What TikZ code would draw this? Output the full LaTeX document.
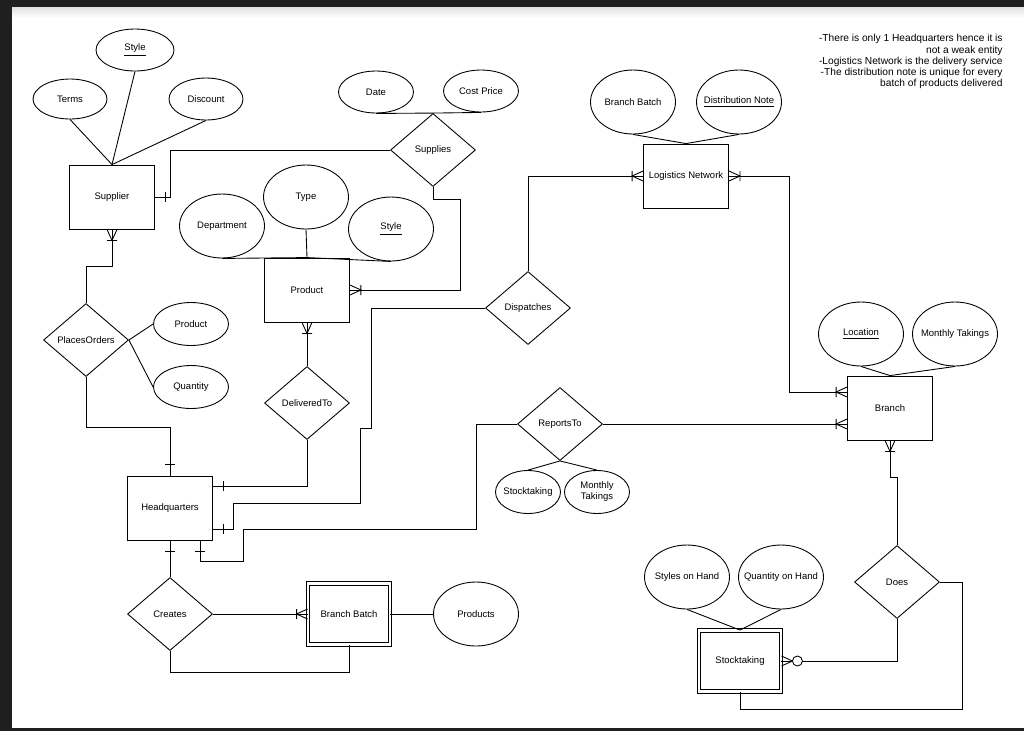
\documentclass[tikz,border=0pt]{standalone}
\usepackage{fontspec}
\setmainfont{Liberation Sans}
\usetikzlibrary{shapes}
\usetikzlibrary{calc}

\tikzset{
  onemark/.pic={\draw (11,-5) -- (11,5);},
  manymark/.pic={\draw (0,-5) -- (11,0) -- (0,5) (11,-5) -- (11,5);},
  zeromark/.pic={\draw (0,-5) -- (11,0) -- (0,5); \draw[fill=white] (16,0) circle (5);},
}

\begin{document}
\begin{tikzpicture}[x=0.02cm,y=-0.02cm,line width=0.5pt,
  font=\fontsize{5.4}{6.2}\selectfont,
  entity/.style={draw,rectangle,minimum width=1.7cm,minimum height=1.28cm,inner sep=0pt},
  weak/.style={entity,double,double distance=1.3pt,minimum width=1.64cm,minimum height=1.22cm},
  rel/.style={draw,diamond,minimum width=1.7cm,minimum height=1.46cm,inner sep=0pt},
  attr/.style={draw,ellipse,minimum width=1.7cm,minimum height=1.28cm,inner sep=0pt},
  sattr/.style={attr,minimum width=1.5cm,minimum height=0.84cm}]
  \useasboundingbox (0,0) rectangle (1024,731);
  \fill[black!88] (0,0) rectangle (1024,731);
  \fill[white] (12,7) rectangle (1024,728);
  \shade[top color=black!12,bottom color=white] (12,7) rectangle (1024,18);

  % entities
  \node[entity] (sup) at (112,197) {Supplier};
  \node[entity] (prod) at (307,290) {Product};
  \node[entity] (ln) at (686,176) {Logistics Network};
  \node[entity] (br) at (890,408) {Branch};
  \node[entity] (hq) at (170,508) {Headquarters};
  \node[weak] (bb) at (349,614) {Branch Batch};
  \node[weak] (st) at (740,661) {Stocktaking};

  % relationships
  \node[rel] (supplies) at (433,150) {Supplies};
  \node[rel] (po) at (86,340) {PlacesOrders};
  \node[rel] (dt) at (307,403) {DeliveredTo};
  \node[rel] (disp) at (528,308) {Dispatches};
  \node[rel] (rt) at (560,424) {ReportsTo};
  \node[rel] (cr) at (170,614) {Creates};
  \node[rel] (does) at (897,582) {Does};

  % attributes
  \node[sattr,minimum width=1.56cm] (supstyle) at (135,50) {\makebox[0pt]{\underline{Style}}};
  \node[sattr,minimum width=1.48cm,minimum height=0.8cm] (terms) at (70,99) {\makebox[0pt]{Terms}};
  \node[sattr,minimum width=1.48cm] (disc) at (206,99) {\makebox[0pt]{Discount}};
  \node[sattr] (date) at (376,92) {\makebox[0pt]{Date}};
  \node[sattr] (cost) at (481,91) {\makebox[0pt]{Cost Price}};
  \node[attr] (dept) at (222,226) {\makebox[0pt]{Department}};
  \node[attr] (type) at (306,197) {\makebox[0pt]{Type}};
  \node[attr] (pstyle) at (391,229) {\makebox[0pt]{\underline{Style}}};
  \node[attr] (bbatt) at (633,102) {\makebox[0pt]{Branch Batch}};
  \node[attr] (dnote) at (739,102) {\makebox[0pt]{\underline{Distribution Note}}};
  \node[sattr,minimum height=0.86cm] (poprod) at (191,324) {\makebox[0pt]{Product}};
  \node[sattr,minimum height=0.86cm] (poqty) at (191,387) {\makebox[0pt]{Quantity}};
  \node[attr] (loc) at (861,334) {\makebox[0pt]{\underline{Location}}};
  \node[attr] (brtake) at (955,334) {\makebox[0pt]{Monthly Takings}};
  \node[sattr,minimum width=1.3cm,minimum height=0.86cm] (rtstock) at (528,492) {\makebox[0pt]{Stocktaking}};
  \node[sattr,minimum width=1.3cm,minimum height=0.86cm] (rttake) at (597,492)
    {\makebox[0pt]{\begin{tabular}{@{}c@{}}Monthly\\Takings\end{tabular}}};
  \node[attr] (prods) at (476,614) {\makebox[0pt]{Products}};
  \node[attr] (soh) at (687,577) {\makebox[0pt]{Styles on Hand}};
  \node[attr] (qoh) at (781,577) {\makebox[0pt]{Quantity on Hand}};

  \node[anchor=north east,align=right,inner sep=0pt,font=\fontsize{5.8}{6.4}\selectfont] (note) at (1003,34)
    {-There is only 1 Headquarters hence it is\\not a weak entity\\-Logistics Network is the delivery service\\-The distribution note is unique for every\\batch of products delivered};

  % attribute links
  \draw (supstyle.south) -- (sup.north);
  \draw (terms.south) -- (sup.north);
  \draw (disc.south) -- (sup.north);
  \draw (date.south) -- (supplies.north);
  \draw (cost.south) -- (supplies.north);
  \draw (dept.south) -- (prod.north);
  \draw (type.south) -- (prod.north);
  \draw (pstyle.south) -- (prod.north);
  \draw (bbatt.south) -- (ln.north);
  \draw (dnote.south) -- (ln.north);
  \draw (poprod.west) -- (po.east);
  \draw (poqty.west) -- (po.east);
  \draw (loc.south) -- (br.north);
  \draw (brtake.south) -- (br.north);
  \draw (rt.south) -- (rtstock.north);
  \draw (rt.south) -- (rttake.north);
  \draw (prods.west) -- (bb.east);
  \draw (soh.south) -- (st.north);
  \draw (qoh.south) -- (st.north);

  % ports on the sides
  \coordinate (hq-e1) at ($(hq.east)+(0,-22)$);
  \coordinate (hq-e2) at ($(hq.east)+(0,21)$);
  \coordinate (hq-s2) at ($(hq.south)+(30,0)$);
  \coordinate (br-w1) at ($(br.west)+(0,-16)$);
  \coordinate (br-w2) at ($(br.west)+(0,16)$);

  % relationship links
  \draw (sup.east) -- ++(16,0) |- (supplies.west);
  \pic at (sup.east) {onemark};
  \draw (supplies.south) |- (460,199) |- (prod.east);
  \pic at (prod.east) {manymark};
  \draw (sup.south) -- ++(0,37) -| (po.north);
  \pic[rotate=270] at (sup.south) {manymark};
  \draw (po.south) -- ++(0,50) -| (hq.north);
  \pic[rotate=90] at (hq.north) {onemark};
  \draw (prod.south) -- (dt.north);
  \pic[rotate=270] at (prod.south) {manymark};
  \draw (dt.south) |- (hq-e1);
  \pic at (hq-e1) {onemark};
  \draw (disp.west) -| (371,428) -| (360,503) -| (233,529) -- (hq-e2);
  \pic at (hq-e2) {onemark};
  \draw (disp.north) |- (ln.west);
  \pic[rotate=180] at (ln.west) {manymark};
  \draw (ln.east) -- ++(60,0) |- (br-w1);
  \pic at (ln.east) {manymark};
  \pic[rotate=180] at (br-w1) {manymark};
  \draw (rt.east) -- (br-w2);
  \pic[rotate=180] at (br-w2) {manymark};
  \draw (rt.west) -| (476,529) -| (243,561) -| (hq-s2);
  \pic[rotate=270] at (hq-s2) {onemark};
  \draw (hq.south) -- (cr.north);
  \pic[rotate=270] at (hq.south) {onemark};
  \draw (cr.east) -- (bb.west);
  \pic[rotate=180] at (bb.west) {manymark};
  \draw (cr.south) -- ++(0,21) -| (bb.south);
  \draw (br.south) -- ++(0,37) -| (does.north);
  \pic[rotate=270] at (br.south) {manymark};
  \draw (does.south) |- (st.east);
  \pic at (st.east) {zeromark};
  \draw (does.east) -| ++(22,127) -| (st.south);
\end{tikzpicture}
\end{document}
